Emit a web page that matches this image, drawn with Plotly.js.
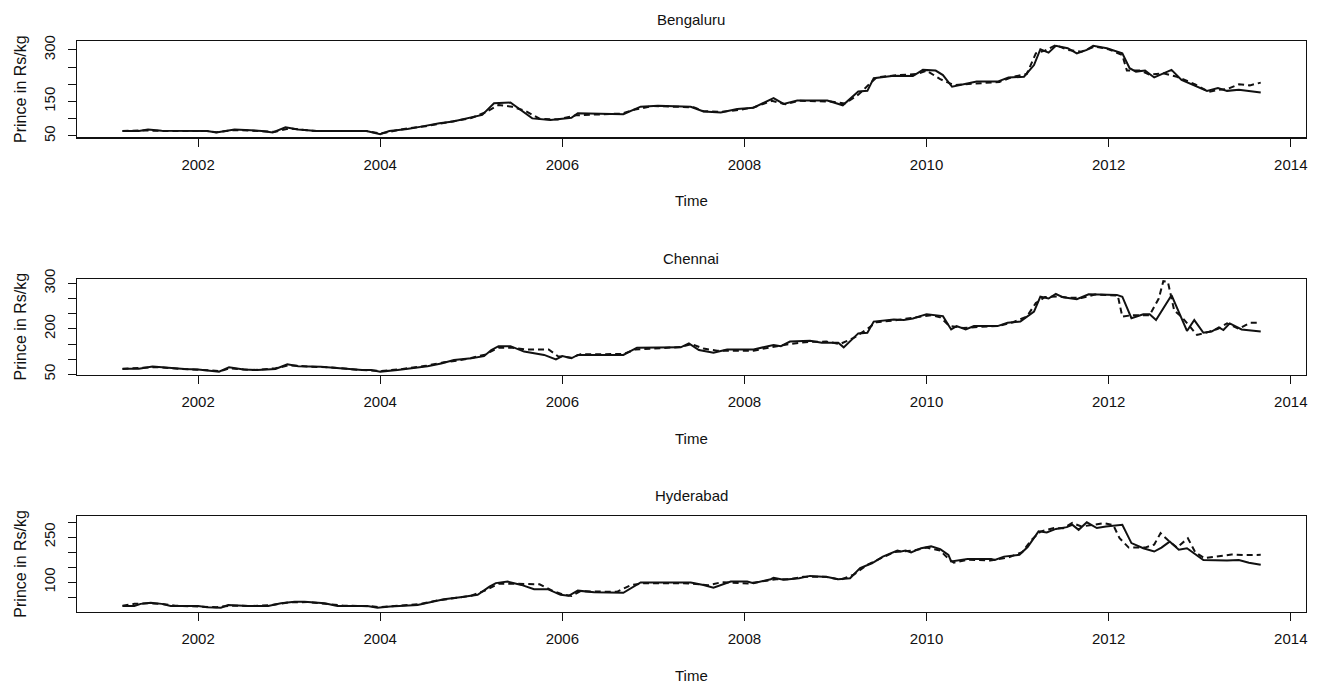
<!DOCTYPE html>
<html><head><meta charset="utf-8">
<script src="https://cdn.plot.ly/plotly-3.0.1.min.js"></script>
<style>html,body{margin:0;padding:0;background:#fff}#chart{width:1323px;height:684px}</style>
</head><body><div id="chart"></div>
<script>
// ---- data (decimal years / price in Rs per kg) ----
const cities = ["Bengaluru", "Chennai", "Hyderabad"];
const yearTicks = [2002, 2004, 2006, 2008, 2010, 2012, 2014];

const bengActualT = [2001.17,2001.35,2001.45,2001.6,2002.1,2002.2,2002.4,2002.7,2002.82,2002.96,2003.1,2003.3,2003.85,2004.0,2004.1,2004.3,2004.45,2004.65,2004.8,2005.0,2005.12,2005.25,2005.43,2005.67,2005.87,2006.1,2006.17,2006.67,2006.86,2007.05,2007.41,2007.55,2007.74,2007.92,2008.1,2008.32,2008.43,2008.58,2008.91,2009.08,2009.25,2009.35,2009.42,2009.64,2009.85,2009.96,2010.1,2010.18,2010.28,2010.46,2010.55,2010.78,2010.9,2011.07,2011.18,2011.25,2011.34,2011.42,2011.55,2011.65,2011.76,2011.83,2011.98,2012.15,2012.23,2012.3,2012.4,2012.5,2012.69,2012.8,2012.94,2013.08,2013.2,2013.3,2013.43,2013.55,2013.67];
const bengActual = [64.5,64.5,69,65,64.5,60,69,64.5,60,75,69,64.5,64.5,55,64.5,70,77,87,92,104,111,145,147,101,96.5,103,116,113,135,138,135,121,118,128,132,160,143,153,153,139,179,181,218,225,224,242,240,227,193,203,208,208,220,222,256,302,292,312,305,290,300,312,305,290,247,237,240,220,242,213,198,181,189,181,184,181,176];
const bengFcT = [2001.17,2001.4,2001.6,2002.1,2002.2,2002.4,2002.7,2002.85,2003.0,2003.15,2003.3,2003.85,2004.0,2004.1,2004.3,2004.5,2004.65,2004.85,2005.0,2005.15,2005.3,2005.45,2005.6,2005.75,2005.95,2006.15,2006.65,2006.8,2007.0,2007.45,2007.55,2007.75,2007.95,2008.1,2008.3,2008.45,2008.6,2008.95,2009.1,2009.25,2009.35,2009.45,2009.65,2009.9,2010.0,2010.15,2010.3,2010.5,2010.8,2010.95,2011.1,2011.2,2011.3,2011.42,2011.55,2011.7,2011.85,2012.0,2012.15,2012.2,2012.35,2012.45,2012.6,2012.75,2012.95,2013.1,2013.2,2013.3,2013.43,2013.55,2013.67];
const bengFc = [64.5,66,64.5,64,61,67,64,62,72,68,64,64,57,62,72,78,86,95,102,118,140,135,122,100,98,110,115,127,137,133,122,120,126,133,152,142,152,150,144,170,195,220,226,230,240,215,198,202,207,222,230,290,298,314,300,295,310,302,285,240,240,228,232,222,200,178,184,186,200,197,205];

const chenActualT = [2001.17,2001.35,2001.5,2001.65,2001.85,2002.0,2002.1,2002.23,2002.34,2002.5,2002.65,2002.85,2002.98,2003.1,2003.35,2003.6,2003.8,2003.9,2004.0,2004.19,2004.35,2004.52,2004.67,2004.81,2005.0,2005.14,2005.22,2005.3,2005.43,2005.58,2005.8,2005.93,2006.0,2006.1,2006.17,2006.67,2006.82,2007.3,2007.39,2007.5,2007.66,2007.81,2008.1,2008.32,2008.4,2008.5,2008.72,2008.85,2009.03,2009.09,2009.25,2009.35,2009.42,2009.64,2009.75,2009.85,2009.93,2010.0,2010.18,2010.27,2010.33,2010.43,2010.52,2010.78,2010.89,2011.03,2011.18,2011.25,2011.34,2011.42,2011.5,2011.65,2011.78,2011.93,2012.09,2012.15,2012.25,2012.38,2012.45,2012.52,2012.69,2012.86,2012.94,2013.04,2013.13,2013.21,2013.26,2013.33,2013.46,2013.67];
const chenActual = [68.6,68.6,76,72,68,66,64,59,73,66,64,68,83,77,75,68.6,64,64,59,64,70,77,86,97,103,110,130,143,143,125,114,99,110,103,114,114,138,139,152,130,121,132,132,147,143,158,161,154,154,139,185,187,224,231,229,234,242,248,242,198,209,198,209,209,220,224,257,306,300,315,304,298,314,314,312,306,235,248,248,229,311,193,229,187,191,205,196,218,198,191];
const chenFcT = [2001.17,2001.4,2001.55,2001.8,2002.1,2002.25,2002.35,2002.6,2002.85,2003.0,2003.2,2003.5,2003.8,2004.0,2004.2,2004.5,2004.7,2004.85,2005.0,2005.15,2005.3,2005.45,2005.6,2005.85,2005.95,2006.1,2006.2,2006.67,2006.8,2007.3,2007.42,2007.55,2007.7,2007.85,2008.1,2008.3,2008.5,2008.7,2008.9,2009.05,2009.2,2009.35,2009.45,2009.65,2009.9,2010.05,2010.15,2010.25,2010.4,2010.55,2010.8,2010.95,2011.1,2011.2,2011.3,2011.45,2011.55,2011.7,2011.85,2012.1,2012.15,2012.25,2012.45,2012.55,2012.6,2012.65,2012.72,2012.8,2012.97,2013.1,2013.2,2013.3,2013.43,2013.55,2013.67];
const chenFc = [68,72,74,68,64,61,70,64,70,80,76,72,64,61,66,78,90,95,104,115,138,138,132,132,110,105,116,117,132,140,150,135,128,128,128,140,150,157,158,150,170,200,222,228,238,245,238,210,203,205,210,222,240,285,305,307,303,302,313,310,240,245,245,300,357,355,260,240,180,190,200,218,200,220,220];

const hydActualT = [2001.17,2001.3,2001.37,2001.48,2001.6,2001.7,2002.0,2002.1,2002.25,2002.33,2002.55,2002.77,2002.91,2003.06,2003.17,2003.39,2003.53,2003.86,2003.97,2004.11,2004.41,2004.55,2004.7,2004.88,2005.07,2005.2,2005.27,2005.4,2005.55,2005.69,2005.84,2005.98,2006.07,2006.17,2006.35,2006.67,2006.86,2007.41,2007.55,2007.66,2007.85,2008.03,2008.1,2008.29,2008.32,2008.43,2008.6,2008.72,2008.91,2009.03,2009.16,2009.27,2009.4,2009.52,2009.68,2009.72,2009.77,2009.83,2009.94,2010.05,2010.15,2010.24,2010.27,2010.45,2010.71,2010.75,2010.85,2011.02,2011.11,2011.23,2011.32,2011.42,2011.54,2011.6,2011.67,2011.76,2011.87,2011.97,2012.15,2012.25,2012.38,2012.5,2012.58,2012.67,2012.77,2012.86,2012.94,2013.04,2013.3,2013.43,2013.54,2013.67];
const hydActual = [21,21,28,32,28,21,21,17,15,24,21,21,30,35,35,30,21,21,15,19,24,32,43,50,58,85,97,102,91,77,77,58,55,72,67,65,99,99,91,82,102,102,97,110,115,108,113,121,117,110,113,147,163,185,205,202,205,199,213,219,210,191,169,177,177,174,185,191,217,269,265,277,283,291,274,299,280,285,291,230,213,202,215,235,208,213,197,174,172,174,165,158];
const hydFcT = [2001.17,2001.3,2001.45,2001.6,2001.75,2002.0,2002.2,2002.35,2002.6,2002.8,2003.0,2003.2,2003.4,2003.6,2003.9,2004.0,2004.2,2004.45,2004.6,2004.8,2005.0,2005.15,2005.3,2005.45,2005.6,2005.75,2005.9,2006.0,2006.1,2006.2,2006.6,2006.75,2006.9,2007.4,2007.6,2007.75,2008.05,2008.2,2008.35,2008.5,2008.65,2008.9,2009.05,2009.2,2009.35,2009.5,2009.65,2009.85,2010.0,2010.15,2010.25,2010.3,2010.45,2010.7,2010.9,2011.05,2011.15,2011.25,2011.4,2011.5,2011.6,2011.7,2011.8,2011.95,2012.05,2012.12,2012.22,2012.4,2012.5,2012.57,2012.65,2012.75,2012.87,2012.95,2013.05,2013.2,2013.35,2013.5,2013.67];
const hydFc = [22,28,30,28,22,20,17,22,21,24,33,34,28,22,20,17,22,28,38,47,55,72,95,95,95,93,70,60,54,70,68,90,97,96,90,100,96,104,110,110,118,118,108,125,158,180,200,205,215,205,175,165,175,172,182,200,240,268,280,279,297,285,290,296,290,246,215,215,225,263,240,215,246,200,180,185,192,190,191];

// ---- axis settings per panel ----
const yRanges = [[46, 326], [49.5, 365], [1, 321]];
const yTickVals = [[50,100,150,200,250,300], [50,100,150,200,250,300,350], [50,100,150,200,250,300]];
const yTickText = [["50","","150","","","300"], ["50","","","200","","","300"], ["","100","","","250",""]];

const series = [
  [bengActualT, bengActual, bengFcT, bengFc],
  [chenActualT, chenActual, chenFcT, chenFc],
  [hydActualT, hydActual, hydFcT, hydFc]
];

const W = 1323, H = 684;
const plotLeft = 76.7, plotRight = 1306;
const panelTop = [41, 278.8, 515.7], panelBottom = [137.3, 374.5, 612];
const titleY = [20, 258, 495];

const font = "Liberation Sans, Arial, Helvetica, sans-serif";
const traces = [];
const layout = {
  width: W, height: H,
  margin: {l: 0, r: 0, t: 0, b: 0},
  paper_bgcolor: "#fff", plot_bgcolor: "#fff",
  showlegend: false,
  font: {family: font, color: "#111", size: 15},
  annotations: []
};

for (let i = 0; i < 3; i++) {
  const sfx = i === 0 ? "" : String(i + 1);
  const [aT, a, fT, f] = series[i];
  traces.push({x: aT, y: a, type: "scatter", mode: "lines", xaxis: "x" + sfx, yaxis: "y" + sfx,
    line: {color: "#111", width: 2}, name: cities[i] + " actual", hoverinfo: "x+y"});
  traces.push({x: fT, y: f, type: "scatter", mode: "lines", xaxis: "x" + sfx, yaxis: "y" + sfx,
    line: {color: "#111", width: 2, dash: "6px,4px"}, name: cities[i] + " forecast", hoverinfo: "x+y"});

  layout["xaxis" + sfx] = {
    domain: [plotLeft / W, plotRight / W], anchor: "y" + sfx,
    range: [2000.667, 2014.167], tickvals: yearTicks, ticktext: yearTicks.map(String),
    ticks: "outside", ticklen: 8, tickwidth: 1, tickcolor: "#111",
    showline: true, mirror: true, linecolor: "#111", linewidth: 1.2,
    showgrid: false, zeroline: false, ticklabelstandoff: 5,
    tickfont: {family: font, size: 15, color: "#111"},
    title: {text: "Time", standoff: 24, font: {family: font, size: 15, color: "#111"}}
  };
  layout["yaxis" + sfx] = {
    domain: [1 - panelBottom[i] / H, 1 - panelTop[i] / H], anchor: "x" + sfx,
    range: yRanges[i], tickvals: yTickVals[i], ticktext: yTickText[i], tickangle: -90,
    ticks: "outside", ticklen: 8, tickwidth: 1, tickcolor: "#111",
    showline: true, mirror: true, linecolor: "#111", linewidth: 1.2,
    showgrid: false, zeroline: false, ticklabelstandoff: 7,
    tickfont: {family: font, size: 15, color: "#111"},
    title: {text: "Prince in Rs/kg", standoff: 9, font: {family: font, size: 16, color: "#111"}}
  };
  layout.annotations.push({
    text: cities[i], xref: "paper", yref: "paper",
    x: (plotLeft + plotRight) / 2 / W, y: 1 - titleY[i] / H,
    xanchor: "center", yanchor: "middle", showarrow: false,
    font: {family: font, size: 15, color: "#111"}
  });
}

Plotly.newPlot("chart", traces, layout, {staticPlot: true, displayModeBar: false});
</script>
</body></html>
